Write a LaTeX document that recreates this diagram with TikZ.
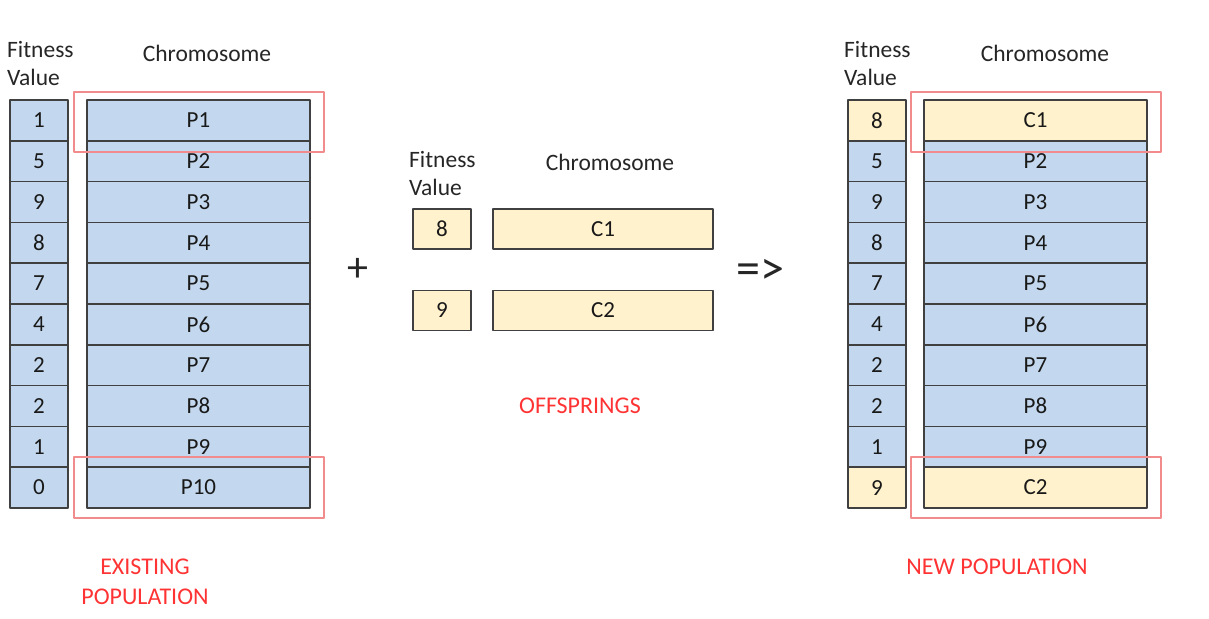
\documentclass[tikz,border=0pt]{standalone}
\usepackage{fontspec}
\setmainfont{Carlito}
\definecolor{popblue}{HTML}{C3D8EE}
\definecolor{kidyellow}{HTML}{FFF2CC}
\definecolor{cellline}{HTML}{404040}
\definecolor{markred}{HTML}{F28B8B}
\definecolor{labelred}{HTML}{FF3333}
\begin{document}
\begin{tikzpicture}[x=1pt, y=-1pt, line join=round, line cap=round]
            \tikzset{cell/.style={draw=cellline, line width=1.5pt, inner sep=0pt, minimum height=40.8pt, text=black!90, font=\fontsize{23}{26}\selectfont},
                fitbox/.style={cell, minimum width=58pt},
                chrbox/.style={cell, minimum width=223pt},
                head style/.style={text=black!85, font=\fontsize{23.5}{28}\selectfont, inner sep=0pt},
                redbox/.style={draw=markred, line width=1.5pt},
                red label/.style={text=labelred, align=center, inner sep=0pt, font=\fontsize{24}{30}\selectfont}}
            \useasboundingbox (0,0) rectangle (1209,618);
            % existing population
            \node[head style, align=left, anchor=west] (lfhead) at (7,64) {Fitness\\Value};
            \node[head style] (lchead) at (207,53) {Chromosome};
            \foreach \f/\c [count=\i] in {1/P1,5/P2,9/P3,8/P4,7/P5,4/P6,2/P7,2/P8,1/P9,0/P10} {
                \node[fitbox, fill=popblue] (lf\i) at (39,{100+40.8*(\i-0.5)}) {\f};
                \node[chrbox, fill=popblue] (lc\i) at (198.5,{100+40.8*(\i-0.5)}) {\c};
            }
            \draw[redbox] (74,92) rectangle (324,152);
            \draw[redbox] (74,457) rectangle (324,518);
            \node[red label] (oldpop) at (145,582) {EXISTING\\POPULATION};
            % offsprings
            \node[head style] (plus) at (358,270) {\fontsize{42}{42}\selectfont +};
            \node[head style, align=left, anchor=west] (mfhead) at (409,173) {Fitness\\Value};
            \node[head style] (mchead) at (610,162) {Chromosome};
            \node[fitbox, fill=kidyellow, minimum height=40pt] (kf1) at (442,229) {8};
            \node[chrbox, fill=kidyellow, minimum height=40pt, minimum width=220pt] (kc1) at (603,229) {C1};
            \node[fitbox, fill=kidyellow, minimum height=40pt] (kf2) at (442,310.5) {9};
            \node[chrbox, fill=kidyellow, minimum height=40pt, minimum width=220pt] (kc2) at (603,310.5) {C2};
            \node[red label] (kids) at (580,406) {OFFSPRINGS};
            \node[head style] (gives) at (760,272) {\fontsize{48}{48}\selectfont =>};
            % new population
            \node[head style, align=left, anchor=west] (rfhead) at (844,64) {Fitness\\Value};
            \node[head style] (rchead) at (1045,53) {Chromosome};
            \foreach \f/\c/\col [count=\i] in {8/C1/kidyellow,5/P2/popblue,9/P3/popblue,8/P4/popblue,7/P5/popblue,4/P6/popblue,2/P7/popblue,2/P8/popblue,1/P9/popblue,9/C2/kidyellow} {
                \node[fitbox, fill=\col] (rf\i) at (877,{100+40.8*(\i-0.5)}) {\f};
                \node[chrbox, fill=\col] (rc\i) at (1035.5,{100+40.8*(\i-0.5)}) {\c};
            }
            \draw[redbox] (911,92) rectangle (1161,152);
            \draw[redbox] (911,457) rectangle (1161,518);
            \node[red label] (newpop) at (997,567) {NEW POPULATION};
        \end{tikzpicture}
\end{document}
